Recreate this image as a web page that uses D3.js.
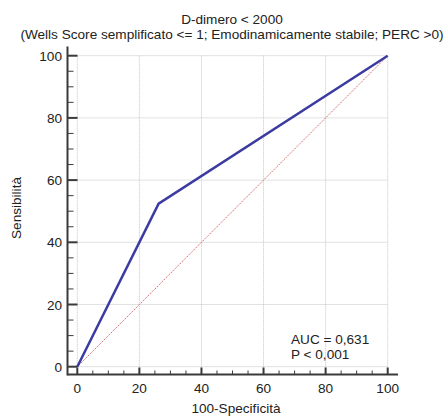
<!DOCTYPE html>
<html>
<head>
<meta charset="utf-8">
<script src="https://cdn.jsdelivr.net/npm/d3@7"></script>
<style>
  body { margin: 0; background: #fff; }
  text { font-family: "Liberation Sans", Arial, sans-serif; fill: #222; }
</style>
</head>
<body>
<svg id="paper"></svg>
<script>
// ROC curve points: [100-Specificità, Sensibilità]
let rocX = [0, 26.2, 100];
let rocY = [0, 52.4, 100];
let diagonal = [0, 100];
let majorTicks = [0, 20, 40, 60, 80, 100];
let minorTicks = d3.range(0, 101, 5);
let titleLines = ["D-dimero < 2000",
    "(Wells Score semplificato <= 1; Emodinamicamente stabile; PERC >0)"];
let statsLines = ["AUC = 0,631", "P < 0,001"];

let width = 448, height = 418;
let fs = "13.6px";
let svg = d3.select("#paper").attr("width", width).attr("height", height);

let x = d3.scaleLinear().domain([0, 100]).range([77.3, 387.7]);
let y = d3.scaleLinear().domain([0, 100]).range([366.7, 55.7]);

let axisX0 = 67.5, axisY0 = 374.5;
let axisColor = "#3a3a3a";

// grid
let grid = svg.append("g");
grid.selectAll(".gx").data(majorTicks).enter().append("line")
    .attr("x1", d => x(d)).attr("x2", d => x(d))
    .attr("y1", y(100)).attr("y2", axisY0)
    .attr("stroke", "#c4c4c4").attr("stroke-dasharray", "1,1");
grid.selectAll(".gy").data(majorTicks).enter().append("line")
    .attr("y1", d => y(d)).attr("y2", d => y(d))
    .attr("x1", axisX0).attr("x2", x(100))
    .attr("stroke", "#c4c4c4").attr("stroke-dasharray", "1,1");

// diagonal
svg.append("path")
    .datum(d3.zip(diagonal, diagonal))
    .attr("d", d3.line().x(d => x(d[0])).y(d => y(d[1])))
    .attr("fill", "none")
    .attr("stroke", "#d06a6a").attr("stroke-width", 1)
    .attr("stroke-dasharray", "1.5,1");

// ROC line
let line = d3.line().x(d => x(d[0])).y(d => y(d[1]));
svg.append("path")
    .datum(d3.zip(rocX, rocY))
    .attr("d", line)
    .attr("fill", "none")
    .attr("stroke", "#3b3ba0")
    .attr("stroke-width", 2.5);

// axes
let ax = svg.append("g");
ax.append("line").attr("x1", axisX0).attr("x2", 398).attr("y1", axisY0).attr("y2", axisY0)
    .attr("stroke", axisColor).attr("stroke-width", 2);
ax.append("line").attr("x1", axisX0).attr("x2", axisX0).attr("y1", 46.5).attr("y2", axisY0 + 1)
    .attr("stroke", axisColor).attr("stroke-width", 2);

ax.selectAll(".tx").data(minorTicks).enter().append("line")
    .attr("x1", d => x(d)).attr("x2", d => x(d))
    .attr("y1", axisY0).attr("y2", d => axisY0 - (d % 20 === 0 ? 7 : 4))
    .attr("stroke", axisColor).attr("stroke-width", d => d % 20 === 0 ? 2 : 1);
ax.selectAll(".ty").data(minorTicks).enter().append("line")
    .attr("y1", d => y(d)).attr("y2", d => y(d))
    .attr("x1", axisX0).attr("x2", d => axisX0 + (d % 20 === 0 ? 10 : 6))
    .attr("stroke", axisColor).attr("stroke-width", d => d % 20 === 0 ? 2 : 1);

ax.selectAll(".lx").data(majorTicks).enter().append("text")
    .attr("x", d => x(d)).attr("y", 393)
    .attr("text-anchor", "middle").style("font-size", fs)
    .text(d => d);
ax.selectAll(".ly").data(majorTicks).enter().append("text")
    .attr("x", 62).attr("y", d => y(d) + 5)
    .attr("text-anchor", "end").style("font-size", fs)
    .text(d => d);

// labels
svg.append("text").attr("x", 236).attr("y", 413)
    .attr("text-anchor", "middle").style("font-size", fs)
    .text("100-Specificità");
svg.append("text")
    .attr("transform", "translate(21,208) rotate(-90)")
    .attr("text-anchor", "middle").style("font-size", fs)
    .text("Sensibilità");

svg.selectAll(".title").data(titleLines).enter().append("text")
    .attr("x", 232).attr("y", (d, i) => 24 + i * 15)
    .attr("text-anchor", "middle").style("font-size", fs)
    .text(d => d);

svg.selectAll(".stats").data(statsLines).enter().append("text")
    .attr("x", 291).attr("y", (d, i) => 344 + i * 15)
    .style("font-size", fs)
    .text(d => d);
</script>
</body>
</html>
